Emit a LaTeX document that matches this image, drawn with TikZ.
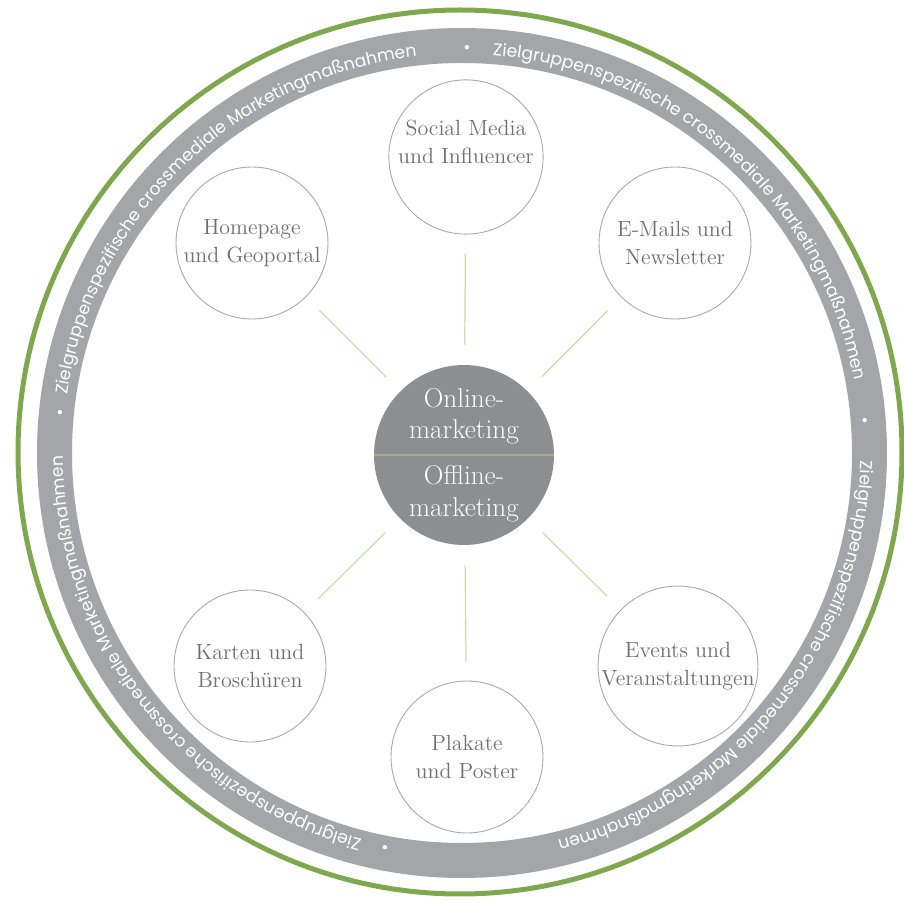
\documentclass[tikz,border=0pt]{standalone}
\usepackage{fontspec}
\newfontfamily\ringfont{Poppins}
\usetikzlibrary{calc,decorations.text}
\definecolor{mkGreen}{HTML}{7FA84E}
\definecolor{mkRing}{HTML}{A3A5A9}
\definecolor{mkHub}{HTML}{8D8E90}
\definecolor{mkLine}{HTML}{C9DCAA}
\definecolor{mkDiv}{HTML}{A3AB8C}
\definecolor{mkEdge}{HTML}{A8A8A8}
\definecolor{mkText}{HTML}{6F6F6F}

\begin{document}
\begin{tikzpicture}[x=0.02cm,y=0.02cm,
  c/.style={circle,draw=mkEdge,line width=0.5pt,fill=white,minimum size=3.04cm,inner sep=0pt,
            font=\fontsize{12.5}{16}\selectfont,text=mkText,align=center},
  hub/.style={circle,fill=mkHub,minimum size=3.6cm,inner sep=0pt,text=white,
            font=\fontsize{15.5}{18}\selectfont,align=center},
  l/.style={mkLine,line width=0.7pt,shorten <=0.4cm,shorten >=0.38cm},
  bul/.style={text=white,inner sep=0pt,font=\ringfont\fontsize{10}{12}\selectfont},
  rt/.style={decorate,decoration={text along path,text align=left,
            text={|\ringfont\fontsize{9.8}{12}\selectfont\color{white}|#1}}}]
  \useasboundingbox (0,0) rectangle (904,904);
  \coordinate (o) at (462,451);
  % outer rings
  \draw[mkGreen,line width=0.1cm] (460,452) circle (442);
  \draw[mkRing,line width=0.7cm] (o) circle (407.5);
  \path[rt={Zielgruppenspezifische crossmediale Marketingmaßnahmen}] (o) ++(85.6:399) arc (85.6:2:399);
  \path[rt={Zielgruppenspezifische crossmediale Marketingmaßnahmen}] (o) ++(-1.1:399) arc (-1.1:-95:399);
  \path[rt={Zielgruppenspezifische crossmediale Marketingmaßnahmen}] (o) ++(255.5:399) arc (255.5:172:399);
  \path[rt={Zielgruppenspezifische crossmediale Marketingmaßnahmen}] (o) ++(171.6:399) arc (171.6:88:399);
  \node[bul] (b1) at ($(o)+(89.3:404)$) {\textbullet};
  \node[bul] (b2) at ($(o)+(4.3:404)$) {\textbullet};
  \node[bul] (b3) at ($(o)+(-101:404)$) {\textbullet};
  \node[bul] (b4) at ($(o)+(174.5:404)$) {\textbullet};
  % hub and channels
  \node[hub] (hub) at (464,449) {Online-\\marketing\\[8pt]Offline-\\marketing};
  \draw[mkDiv,line width=0.6pt] (hub.west) -- (hub.east);
  \node[c] (soc) at (466,747) {Social Media\\und Influencer\\[1pt]\mbox{}};
  \node[c] (hp)  at (252,661) {Homepage\\und Geoportal};
  \node[c] (em)  at (675,661) {E-Mails und\\Newsletter};
  \node[c] (kb)  at (250,238) {Karten und\\Broschüren};
  \node[c] (ev)  at (678,238) {Events und\\Veranstaltungen};
  \node[c] (pp)  at (467,147) {Plakate\\und Poster};
  \draw[l](hub)--(soc);\draw[l](hub)--(hp);\draw[l](hub)--(em);
  \draw[l](hub)--(kb);\draw[l](hub)--(ev);\draw[l](hub)--(pp);
\end{tikzpicture}
\end{document}
